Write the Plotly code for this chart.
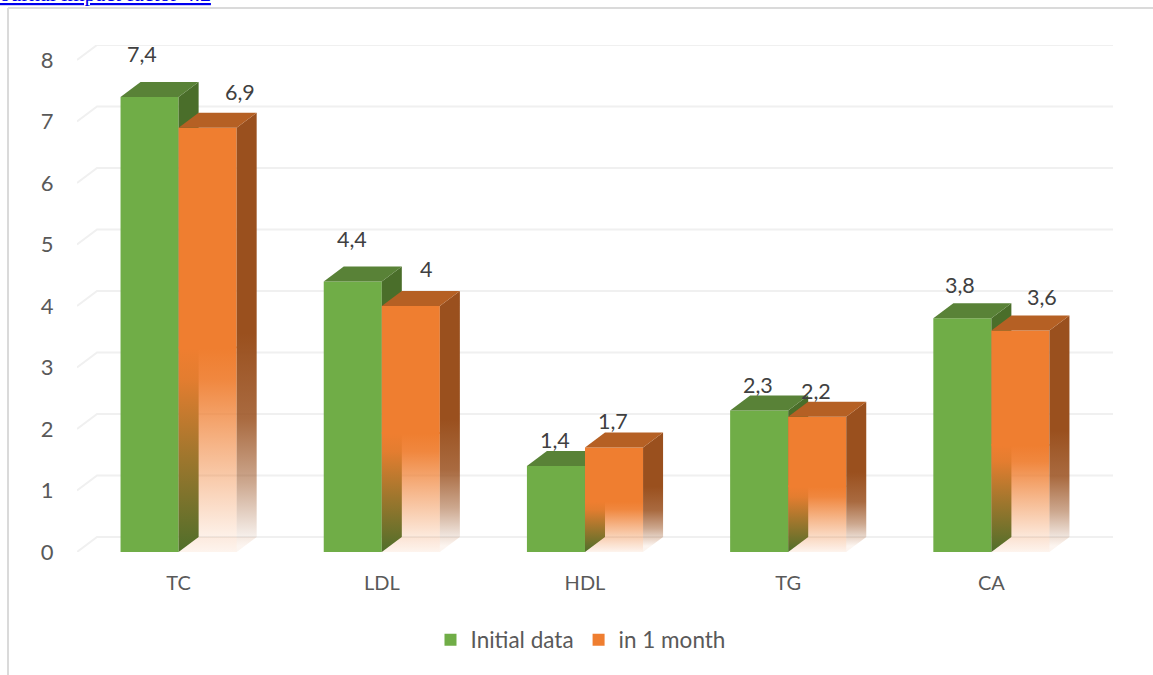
import plotly.graph_objects as go

# Lipid panel values per group
categories = ["TC", "LDL", "HDL", "TG", "CA"]
initial_values = [7.4, 4.4, 1.4, 2.3, 3.8]
month_values = [6.9, 4.0, 1.7, 2.2, 3.6]
initial_labels = ["7,4", "4,4", "1,4", "2,3", "3,8"]
month_labels = ["6,9", "4", "1,7", "2,2", "3,6"]
y_ticks = [0, 1, 2, 3, 4, 5, 6, 7, 8]

# Pseudo-3D geometry, in axis units
BAR_W = 58 / 203
DEPTH_X = 20 / 203
DEPTH_Y = 15 / 61.5
FADE_SHARE = 0.48  # part of each orange column that fades out
FADE_OVERLAP = 0.03  # the fade runs slightly under the solid part to hide the join

GREEN, GREEN_TOP, GREEN_SIDE = "#70AD47", "#598237", "#4A6E2A"
ORANGE, ORANGE_TOP, ORANGE_SIDE = "239,126,48", "#B56024", "154,80,30"
GRID = "#F0F0F0"
FONT = "Lato, Open Sans, sans-serif"

# Per-label pixel nudges relative to the bar's top front edge
initial_shift = [(-8, 43), (-1, 42), (-1, 26), (-1, 26), (-2, 33)]
month_shift = [(32, 36), (15, 37), (-1, 26), (-1, 26), (22, 34)]

# Plot area in pixels
MARGIN_L, MARGIN_R, MARGIN_T, MARGIN_B = 77, 40, 45, 123
PLOT_W = 1153 - MARGIN_L - MARGIN_R
PLOT_H = 675 - MARGIN_T - MARGIN_B

indices = list(range(len(categories)))
fig = go.Figure()


def face(xs, ys, color, axes):
    fig.add_trace(go.Scatter(
        x=xs, y=ys, fill="toself", fillcolor=color, mode="none",
        showlegend=False, hoverinfo="skip", xaxis=axes[0], yaxis=axes[1]))


def faded_face(xs, ys, rgb, start, stop, stops):
    fig.add_trace(go.Scatter(
        x=xs, y=ys, fill="toself", mode="none", showlegend=False, hoverinfo="skip",
        fillgradient=dict(
            type="vertical",
            colorscale=[[p, f"rgba({rgb},{a})"] for p, a in stops],
            start=start, stop=stop),
        xaxis="x2", yaxis="y2"))


# Front subplot: green columns
fig.add_trace(go.Bar(
    x=indices, y=initial_values, width=BAR_W, offset=-BAR_W,
    marker=dict(color=GREEN, line=dict(width=0)), name="Initial data"))
for i, v in zip(indices, initial_values):
    right, left = i, i - BAR_W
    face([right, right + DEPTH_X, right + DEPTH_X, right],
         [0, DEPTH_Y, v + DEPTH_Y, v], GREEN_SIDE, ("x", "y"))
    face([left, left + DEPTH_X, right + DEPTH_X, right],
         [v, v + DEPTH_Y, v + DEPTH_Y, v], GREEN_TOP, ("x", "y"))

# Overlay subplot: orange columns, solid on the upper part and fading out below
fig.add_trace(go.Bar(
    x=indices, y=month_values, width=BAR_W, offset=0,
    marker=dict(color="rgba(0,0,0,0)", line=dict(width=0)),
    showlegend=False, name="in 1 month", xaxis="x2", yaxis="y2"))
fig.add_trace(go.Bar(
    x=indices,
    y=[v * (1 - FADE_SHARE) for v in month_values],
    base=[v * FADE_SHARE for v in month_values],
    width=BAR_W, offset=0, marker=dict(color=f"rgb({ORANGE})", line=dict(width=0)),
    name="in 1 month", hoverinfo="skip", xaxis="x2", yaxis="y2"))

for i, v in zip(indices, month_values):
    left, right = i, i + BAR_W
    fade_top = v * FADE_SHARE
    # lower part of the front face
    overlap_top = fade_top + FADE_OVERLAP
    faded_face([left, right, right, left], [0, 0, overlap_top, overlap_top], ORANGE,
               0, fade_top, [(0, 0.03), (0.5, 0.55), (0.85, 0.93), (1, 1)])
    # floor tint under the faded column
    face([left, left + DEPTH_X, right + DEPTH_X, right],
         [0, DEPTH_Y, DEPTH_Y, 0], f"rgba({ORANGE},0.05)", ("x2", "y2"))
    # side face
    faded_face([right, right + DEPTH_X, right + DEPTH_X, right],
               [0, DEPTH_Y, v + DEPTH_Y, v], ORANGE_SIDE,
               DEPTH_Y * 0.4, fade_top + DEPTH_Y,
               [(0, 0.02), (0.3, 0.5), (0.6, 0.85), (1, 1)])
    face([left, left + DEPTH_X, right + DEPTH_X, right],
         [v, v + DEPTH_Y, v + DEPTH_Y, v], ORANGE_TOP, ("x2", "y2"))

# Receding gridlines: short diagonal from the front edge, then along the back wall
x_lo, x_hi = -0.5, len(categories) - 0.5 + DEPTH_X
y_lo, y_hi = 0, y_ticks[-1] + DEPTH_Y
shapes = []
for t in y_ticks:
    shapes.append(dict(
        type="path", xref="x", yref="y", layer="below",
        path=f"M{x_lo},{t} L{x_lo + DEPTH_X},{t + DEPTH_Y} L{x_hi},{t + DEPTH_Y}",
        line=dict(color=GRID, width=2)))

# Page frame lines
frame_x = (8 - MARGIN_L) / PLOT_W
frame_y = (MARGIN_T + PLOT_H - 8) / PLOT_H
shapes.append(dict(type="line", xref="paper", yref="paper", layer="below",
                   x0=frame_x, x1=(1153 - MARGIN_L) / PLOT_W, y0=frame_y, y1=frame_y,
                   line=dict(color="#DADADA", width=2)))
shapes.append(dict(type="line", xref="paper", yref="paper", layer="below",
                   x0=frame_x, x1=frame_x, y0=frame_y, y1=-MARGIN_B / PLOT_H,
                   line=dict(color="#DADADA", width=2)))

annotations = []
for values, labels, shift, off in (
    (initial_values, initial_labels, initial_shift, -BAR_W / 2),
    (month_values, month_labels, month_shift, BAR_W / 2),
):
    for i, v, text, (dx, dy) in zip(indices, values, labels, shift):
        annotations.append(dict(
            x=i + off, y=v, xref="x", yref="y", text=text, showarrow=False,
            xshift=dx, yshift=dy, yanchor="middle",
            font=dict(family=FONT, size=21.5, color="#404040")))

# Citation link running off the top of the page
annotations.append(dict(
    xref="paper", yref="paper", x=(213 - MARGIN_L) / PLOT_W,
    y=(MARGIN_T + PLOT_H - 8) / PLOT_H,
    xanchor="right", yanchor="bottom", showarrow=False, align="right",
    text="<u>Journal impact factor 4.2</u>",
    font=dict(family="Liberation Serif, serif", size=22, color="#0000EE")))

axis_common = dict(showgrid=False, zeroline=False, showline=False)
fig.update_layout(
    width=1153, height=675, autosize=False,
    margin=dict(l=MARGIN_L, r=MARGIN_R, t=MARGIN_T, b=MARGIN_B, pad=0),
    paper_bgcolor="white", plot_bgcolor="rgba(0,0,0,0)",
    barmode="overlay", shapes=shapes, annotations=annotations,
    font=dict(family=FONT, color="#595959"),
    xaxis=dict(range=[x_lo, x_hi], tickmode="array", tickvals=indices, ticktext=categories,
               ticks="outside", ticklen=13, tickcolor="rgba(0,0,0,0)",
               tickfont=dict(family=FONT, size=20, color="#595959"), **axis_common),
    yaxis=dict(range=[y_lo, y_hi], tickmode="array", tickvals=y_ticks,
               ticks="outside", ticklen=18, tickcolor="rgba(0,0,0,0)",
               tickfont=dict(family=FONT, size=22, color="#595959"), **axis_common),
    xaxis2=dict(range=[x_lo, x_hi], overlaying="x", visible=False),
    yaxis2=dict(range=[y_lo, y_hi], overlaying="y", visible=False),
    legend=dict(orientation="h", x=0.486, xanchor="center",
                y=(MARGIN_T + PLOT_H - 640) / PLOT_H, yanchor="middle",
                traceorder="normal", itemclick=False,
                font=dict(family=FONT, size=22.5, color="#595959")),
)

fig.write_html("out.html")
